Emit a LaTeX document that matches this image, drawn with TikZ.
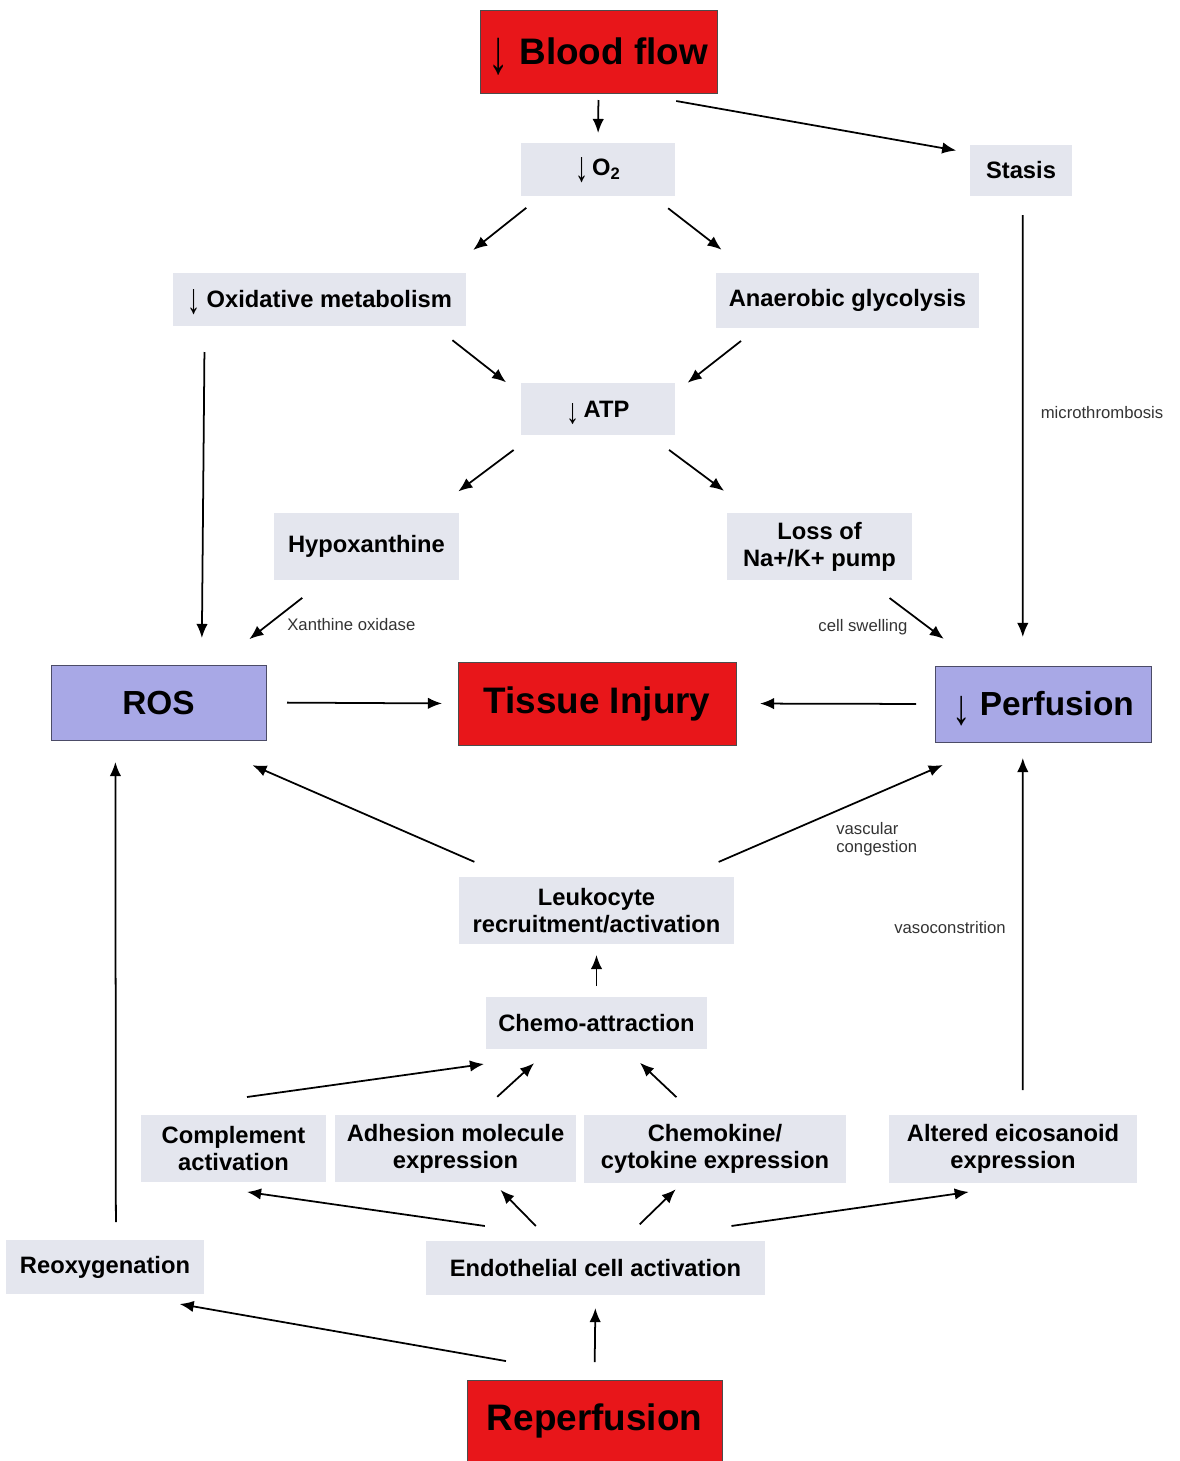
\documentclass[tikz,border=0pt]{standalone}
\usepackage{fontspec}
\setmainfont{Liberation Sans}
\usetikzlibrary{arrows.meta}
\definecolor{boxgray}{RGB}{228,230,238}
\definecolor{flowred}{RGB}{232,22,26}
\definecolor{perfblue}{RGB}{168,168,230}
\newcommand\lessarrow[1]{\smash{\raisebox{-0.25em}{\scalebox{1.1}[#1]{↓}}}}
\begin{document}
\begin{tikzpicture}[
  x=0.02cm, y=-0.02cm,
  wh/.style 2 args={minimum width=#1*0.02cm,minimum height=#2*0.02cm},
  box/.style={fill=boxgray,inner sep=0pt,outer sep=0pt,align=center,font=\fontsize{13.5}{15.5}\selectfont\bfseries},
  red box/.style={box,fill=flowred,draw=black!70,line width=0.5pt,font=\fontsize{21}{24}\selectfont\bfseries},
  blue box/.style={box,fill=perfblue,draw=perfblue!45!black,line width=0.5pt,font=\fontsize{19}{22}\selectfont\bfseries},
  note/.style={inner sep=0pt,align=left,text=black!80,font=\fontsize{9.5}{10.5}\selectfont},
  gap/.style 2 args={shorten <=#1*0.02cm,shorten >=#2*0.02cm},
  ]
  \useasboundingbox (0,0) rectangle (1180,1461);
  \node[red box,wh={237}{83}] (blood) at (598.5,51.5) {\lessarrow{1.7} Blood flow};
  \node[box,wh={154}{53}] (otwo) at (598,169.5) {\lessarrow{1.8}\,O\textsubscript{2}};
  \node[box,wh={102}{51}] (stasis) at (1021,170.5) {Stasis};
  \node[box,wh={293}{53}] (oxid) at (319.5,299.5) {\lessarrow{1.8} Oxidative metabolism};
  \node[box,wh={263}{55}] (anaer) at (847.5,300.5) {Anaerobic glycolysis};
  \node[box,wh={154}{52}] (atp) at (598,409) {\lessarrow{1.5}\,ATP};
  \node[box,wh={185}{67}] (hypo) at (366.5,546.5) {Hypoxanthine};
  \node[box,wh={185}{67}] (loss) at (819.5,546.5) {Loss of\\Na+/K+ pump};
  \node[blue box,wh={215}{75}] (ros) at (158.5,702.5) {ROS};
  \node[red box,wh={278}{83}] (injury) at (597,703.5) {Tissue Injury};
  \node[blue box,wh={216}{76}] (perf) at (1043,704) {\lessarrow{1.5} Perfusion};
  \node[box,wh={275}{67}] (leuko) at (596.5,910.5) {Leukocyte\\recruitment/activation};
  \node[box,wh={221}{52}] (chemo) at (596.5,1023) {Chemo-attraction};
  \node[box,wh={185}{67}] (compl) at (233.5,1148.5) {Complement\\activation};
  \node[box,wh={241}{67}] (adhes) at (455.5,1148.5) {Adhesion molecule\\expression};
  \node[box,wh={262}{68}] (chemok) at (715,1149) {Chemokine/\\cytokine expression};
  \node[box,wh={248}{68}] (eicos) at (1013,1149) {Altered eicosanoid\\expression};
  \node[box,wh={198}{54}] (reoxy) at (105,1267) {Reoxygenation};
  \node[box,wh={339}{54}] (endo) at (595.5,1268) {Endothelial cell activation};
  \node[red box,wh={255}{81}] (reperf) at (594.5,1420.5) {Reperfusion};
  \node[note,anchor=west] (xo) at (287,625) {Xanthine oxidase};
  \node[note] (swell) at (863,627) {cell swelling};
  \node[note] (micro) at (1102,413) {microthrombosis};
  \node[note,anchor=west] (congest) at (836,839) {vascular\\congestion};
  \node[note] (vaso) at (950,928) {vasoconstrition};
  \path[->,>={Latex[length=8pt,width=6.5pt]},line width=1pt]
  (blood.south) edge[gap={7}{10}] (otwo.north)
  (blood.308) edge[gap={46}{14}] (stasis.161)
  (otwo.205) edge[gap={19}{37}] (oxid.12)
  (otwo.334) edge[gap={20}{38}] (anaer.164)
  (oxid.347) edge[gap={23}{19}] (atp.169)
  (anaer.197) edge[gap={21}{16}] (atp.12)
  (atp.202) edge[gap={25}{36}] (hypo.28)
  (atp.333) edge[gap={25}{37}] (loss.153)
  (oxid.193) edge[gap={26}{27}] (ros.41)
  (hypo.219) edge[gap={29}{42}] (ros.33)
  (loss.324) edge[gap={30}{45}] (perf.149)
  (stasis.274) edge[gap={19}{29}] (perf.118)
  (ros.east) edge[gap={21}{16}] (injury.west)
  (perf.west) edge[gap={19}{24}] (injury.east)
  (leuko.159) edge[gap={38}{63}] (ros.314)
  (leuko.21) edge[gap={38}{58}] (perf.219)
  (chemo.north) edge[gap={11}{11}] (leuko.south)
  ([shift={(13.5,-18)}]compl.north) edge ([shift={(-2,15)}]chemo.south west)
  (adhes.57) edge[gap={27}{21}] (chemo.209)
  (chemok.120) edge[gap={26}{20}] (chemo.318)
  (eicos.74) edge[gap={25}{16}] (perf.242)
  (endo.102) edge[gap={106}{70}] (compl.211)
  (endo.149) edge[gap={21}{11}] (adhes.318)
  (endo.45) edge[gap={24}{9}] (chemok.226)
  (endo.41) edge[gap={106}{63}] (eicos.298)
  (reoxy.68) edge[gap={18}{22}] (ros.221)
  (reperf.north) edge[gap={18}{13}] (endo.south)
  (reperf.64) edge[gap={110}{58}] (reoxy.303);
\end{tikzpicture}
\end{document}
